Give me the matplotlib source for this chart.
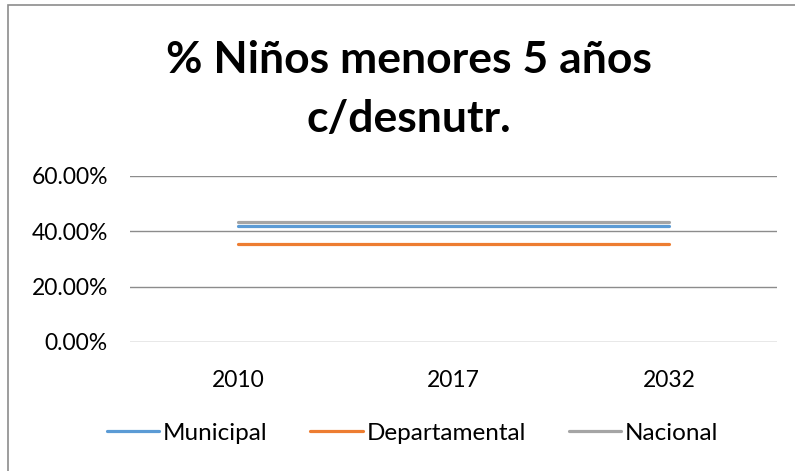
import matplotlib
matplotlib.use("Agg")
import matplotlib.pyplot as plt
from matplotlib.patches import Rectangle
from matplotlib.ticker import FuncFormatter

# series data (fraction of children under 5 with malnutrition)
years = ["2010", "2017", "2032"]
municipal = [0.420, 0.420, 0.420]
departamental = [0.354, 0.354, 0.354]
nacional = [0.433, 0.433, 0.433]
series_names = ["Municipal", "Departamental", "Nacional"]
colors = ["#5B9BD5", "#ED7D31", "#A5A5A5"]

plt.rcParams['font.family'] = ['Lato', 'DejaVu Sans']

fig = plt.figure(figsize=(7.95, 4.71), dpi=100)
ax = fig.add_axes([130 / 795, 1 - 342 / 471, 647 / 795, 166 / 471])

x = range(len(years))
for vals, name, col in zip([municipal, departamental, nacional], series_names, colors):
    ax.plot(x, vals, color=col, lw=2.3, label=name, solid_capstyle='round')

ax.set_xlim(-0.5, 2.5)
ax.set_ylim(0, 0.6)
ax.set_yticks([0, 0.2, 0.4, 0.6])
ax.yaxis.set_major_formatter(FuncFormatter(lambda v, p: f"{v * 100:.2f}%"))
ax.set_xticks(list(x))
ax.set_xticklabels(years)
ax.grid(axis='y', color='#8C8C8C', lw=1.0)
ax.set_axisbelow(True)
for s in ax.spines.values():
    s.set_visible(False)
ax.tick_params(length=0, labelsize=16.5, colors='#000000')
ax.tick_params(axis='y', pad=16)
ax.tick_params(axis='x', pad=20)

fig.text(0.514, 1 - 60 / 471, "% Niños menores 5 años", ha='center', va='center',
         fontsize=32, fontweight='bold')
fig.text(0.514, 1 - 119 / 471, "c/desnutr.", ha='center', va='center',
         fontsize=32, fontweight='bold')

fig.legend(loc='center', bbox_to_anchor=(0.519, 1 - 433 / 471), ncol=3, frameon=False,
           fontsize=17.5, handlelength=2.15, handletextpad=0.17, columnspacing=1.75)

# chart-area outline
fig.patches.append(Rectangle((8 / 795, -0.1), 1.2, 1.1 - 5 / 471, transform=fig.transFigure,
                             fill=False, edgecolor='#8C8C8C', lw=1.2))

fig.savefig("out.png", dpi=100)
